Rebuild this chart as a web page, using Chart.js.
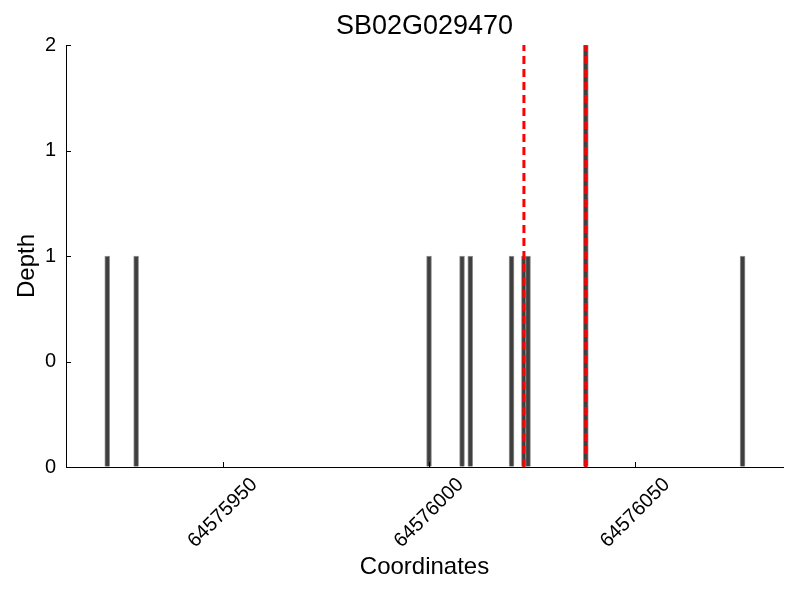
<!DOCTYPE html>
<html>
<head>
<meta charset="utf-8">
<script src="https://cdn.jsdelivr.net/npm/chart.js@4"></script>
<style>
html,body{margin:0;padding:0;background:#fff;}
#wrap{width:800px;height:600px;}
</style>
</head>
<body>
<div id="wrap"><canvas id="c" width="800" height="600"></canvas></div>
<script>
// ---- data ----
const chartTitle = "SB02G029470";
const xAxisTitle = "Coordinates";
const yAxisTitle = "Depth";
const coordinates = [64575922, 64575929, 64576000, 64576008, 64576010, 64576020, 64576023, 64576024, 64576038, 64576076];
const depths      = [1, 1, 1, 1, 1, 1, 1, 1, 2, 1];
const markerLines = [64576023, 64576038];
const xTickValues = [64575950, 64576000, 64576050];
const xTickLabels = ["64575950", "64576000", "64576050"];
const yTickValues = [0, 0.5, 1, 1.5, 2];
const yTickLabels = ["0", "0", "1", "1", "2"];
const xRange = [64575912, 64576085.8];
const yRange = [0, 2];

const FONT = "'Liberation Sans', Arial, sans-serif";

const barData = coordinates.map((x, i) => ({x: x, y: depths[i]}));
const lineSets = markerLines.map(x => ({
  type: 'line',
  data: [{x: x, y: yRange[0]}, {x: x, y: yRange[1]}],
  borderColor: '#ff0000',
  borderWidth: 3,
  borderDash: [8, 5],
  pointRadius: 0,
  fill: false,
  order: 0
}));

const decorations = {
  id: 'decorations',
  afterDraw(chart) {
    const ctx = chart.ctx, a = chart.chartArea;
    const xs = chart.scales.x, ys = chart.scales.y;
    ctx.save();
    // inward tick marks
    ctx.strokeStyle = '#000';
    ctx.lineWidth = 1;
    ctx.beginPath();
    xTickValues.forEach(v => {
      const px = Math.round(xs.getPixelForValue(v)) + 0.5;
      ctx.moveTo(px, a.bottom);
      ctx.lineTo(px, a.bottom - 5);
    });
    yTickValues.forEach(v => {
      const py = Math.round(ys.getPixelForValue(v)) + 0.5;
      ctx.moveTo(a.left, py);
      ctx.lineTo(a.left + 5, py);
    });
    ctx.stroke();
    ctx.fillStyle = '#000';
    // rotated x tick labels, centred on tick
    ctx.font = "20px " + FONT;
    ctx.textAlign = 'center';
    ctx.textBaseline = 'middle';
    xTickValues.forEach((v, i) => {
      const px = xs.getPixelForValue(v);
      ctx.save();
      ctx.translate(px, a.bottom + 46);
      ctx.rotate(-Math.PI / 4);
      ctx.fillText(xTickLabels[i], 0, 0);
      ctx.restore();
    });
    // title centred over plot area
    ctx.font = "27px " + FONT;
    ctx.fillText(chartTitle, (a.left + a.right) / 2, 27);
    // x axis title
    ctx.font = "24px " + FONT;
    ctx.fillText(xAxisTitle, (a.left + a.right) / 2, 567);
    // y axis title
    ctx.save();
    ctx.translate(27, 266);
    ctx.rotate(-Math.PI / 2);
    ctx.fillText(yAxisTitle, 0, 0);
    ctx.restore();
    ctx.restore();
  }
};

new Chart(document.getElementById('c'), {
  type: 'bar',
  data: {
    datasets: [{
      type: 'bar',
      data: barData,
      backgroundColor: '#3f3f3f',
      borderColor: '#9a9a9a',
      borderWidth: 1,
      barThickness: 5,
      order: 1
    }, ...lineSets]
  },
  options: {
    responsive: false,
    animation: false,
    devicePixelRatio: 1,
    layout: {padding: {left: 0, right: 17, top: 45, bottom: 0}},
    plugins: {
      legend: {display: false},
      tooltip: {enabled: false},
      title: {display: false}
    },
    scales: {
      x: {
        type: 'linear',
        min: xRange[0],
        max: xRange[1],
        offset: false,
        afterBuildTicks(scale) { scale.ticks = xTickValues.map(v => ({value: v})); },
        afterFit(scale) { scale.height = 133; },
        grid: {display: true, drawOnChartArea: false, drawTicks: false},
        border: {display: true, color: '#000', width: 1},
        ticks: {display: false},
        title: {display: false}
      },
      y: {
        min: yRange[0],
        max: yRange[1],
        afterBuildTicks(scale) { scale.ticks = yTickValues.map(v => ({value: v})); },
        afterFit(scale) { scale.width = 66; },
        grid: {display: true, drawOnChartArea: false, drawTicks: false},
        border: {display: true, color: '#000', width: 1},
        ticks: {
          color: '#000',
          font: {family: FONT, size: 20},
          padding: 10,
          callback: (v, i) => yTickLabels[i]
        },
        title: {display: false}
      }
    }
  },
  plugins: [decorations]
});
</script>
</body>
</html>
